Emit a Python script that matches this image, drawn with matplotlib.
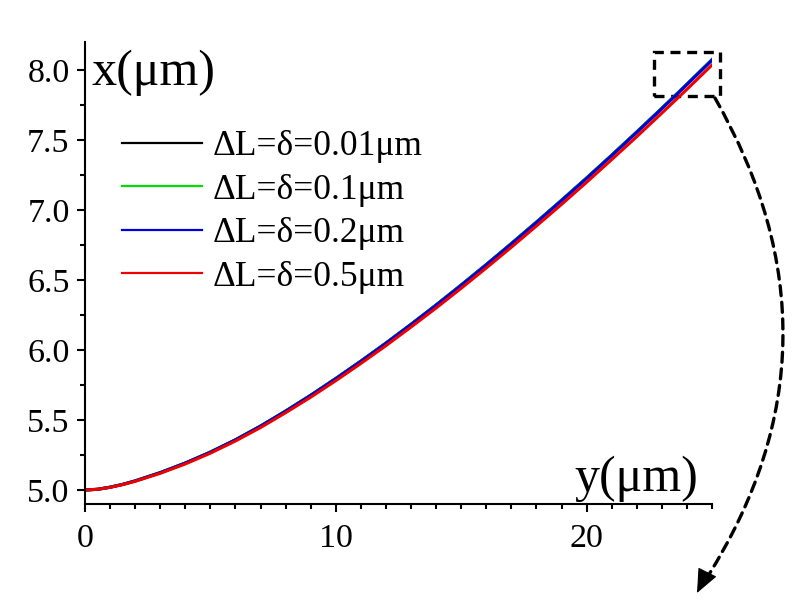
import matplotlib
matplotlib.use('Agg')
import matplotlib.pyplot as plt
from matplotlib.patches import Rectangle, FancyArrowPatch
from matplotlib.ticker import MultipleLocator, FormatStrFormatter

# values: y (um) -> x (um)
y_pts = [0, 0.5, 1, 1.5, 2, 3, 4, 5, 6, 7, 8, 9, 10, 11, 12, 13, 14, 15,
         16, 17, 18, 19, 20, 21, 22, 23, 24, 25]
x_001 = [5.000, 5.005, 5.020, 5.040, 5.065, 5.124, 5.193, 5.271, 5.359,
         5.457, 5.564, 5.677, 5.797, 5.921, 6.050, 6.184, 6.322, 6.465,
         6.611, 6.761, 6.914, 7.070, 7.229, 7.392, 7.558, 7.727, 7.899,
         8.074]
x_01 = [5.000, 5.005, 5.020, 5.040, 5.065, 5.124, 5.192, 5.271, 5.358,
        5.457, 5.564, 5.677, 5.796, 5.920, 6.049, 6.183, 6.321, 6.464,
        6.610, 6.760, 6.913, 7.069, 7.228, 7.391, 7.557, 7.726, 7.898,
        8.073]
x_02 = [5.000, 5.005, 5.020, 5.040, 5.065, 5.124, 5.192, 5.270, 5.358,
        5.456, 5.563, 5.676, 5.795, 5.919, 6.048, 6.182, 6.320, 6.462,
        6.608, 6.758, 6.911, 7.067, 7.226, 7.389, 7.555, 7.724, 7.896,
        8.071]
x_05 = [5.000, 5.005, 5.019, 5.038, 5.062, 5.119, 5.186, 5.263, 5.350,
        5.446, 5.552, 5.663, 5.781, 5.904, 6.031, 6.164, 6.300, 6.441,
        6.586, 6.734, 6.886, 7.040, 7.198, 7.360, 7.524, 7.692, 7.862,
        8.036]

labels = [u'\u0394L=\u03b4=0.01\u03bcm', u'\u0394L=\u03b4=0.1\u03bcm',
          u'\u0394L=\u03b4=0.2\u03bcm', u'\u0394L=\u03b4=0.5\u03bcm']
colors = ['#000000', '#00dd00', '#0000dd', '#ee0000']

plt.rcParams['font.family'] = ['Liberation Serif', 'DejaVu Serif']

W, H = 802, 603
fig = plt.figure(figsize=(W / 100.0, H / 100.0), dpi=100)
ax = fig.add_axes([85.0 / W, 1 - 504.0 / H, 627.0 / W, 462.0 / H])

for xs, lab, c in zip([x_001, x_01, x_02, x_05], labels, colors):
    ax.plot(y_pts, xs, color=c, lw=2.2, label=lab)

ax.set_xlim(0, 25)
ax.set_ylim(4.9, 8.2)

for s in ['top', 'right']:
    ax.spines[s].set_visible(False)
for s in ['left', 'bottom']:
    ax.spines[s].set_linewidth(1.5)

ax.xaxis.set_major_locator(MultipleLocator(10))
ax.xaxis.set_minor_locator(MultipleLocator(1))
ax.yaxis.set_major_locator(MultipleLocator(0.5))
ax.yaxis.set_minor_locator(MultipleLocator(0.25))
ax.yaxis.set_major_formatter(FormatStrFormatter('%.1f'))
ax.tick_params(which='major', length=6, width=1.5, labelsize=24.5)
ax.tick_params(which='minor', length=3.6, width=1.5)
ax.tick_params(axis='x', which='major', pad=8)
ax.tick_params(axis='y', which='major', pad=5)

# axis labels sit inside the plot area, as in the original
fig.text(92.0 / W, 1 - 73.0 / H, u'x(\u03bcm)', fontsize=36,
         ha='left', va='center')
fig.text(698.0 / W, 1 - 491.0 / H, u'y(\u03bcm)', fontsize=36,
         ha='right', va='baseline')

leg = ax.legend(loc='upper left', bbox_to_anchor=(122.0 / W, 1 - 130.0 / H),
                bbox_transform=fig.transFigure, frameon=False, fontsize=25.5,
                handlelength=2.25, handletextpad=0.3, labelspacing=0.3,
                borderpad=0, borderaxespad=0)
for ln in leg.get_lines():
    ln.set_linewidth(1.6)

# dashed zoom box around the top right end
box = Rectangle((22.67, 7.814), 2.63, 0.315, fill=False, ls=(0, (3, 2)),
                lw=2.4, ec='black', clip_on=False)
ax.add_patch(box)

# dashed curved pointer, with a solid head drawn on its own
tip = (697.0 / W, 1 - 593.0 / H)
curve = FancyArrowPatch((715.0 / W, 1 - 98.0 / H), tip,
                        transform=fig.transFigure,
                        connectionstyle='arc3,rad=-0.31', arrowstyle='-',
                        ls=(0, (3, 2)), lw=2.4, color='black',
                        shrinkA=0, shrinkB=14)
fig.patches.append(curve)
head = FancyArrowPatch((707.0 / W, 1 - 573.0 / H), tip,
                       transform=fig.transFigure,
                       arrowstyle='-|>,head_length=0.7,head_width=0.3',
                       mutation_scale=22, lw=0.8, color='black',
                       shrinkA=0, shrinkB=0)
fig.patches.append(head)

fig.savefig('out.png', dpi=100, facecolor='white')
